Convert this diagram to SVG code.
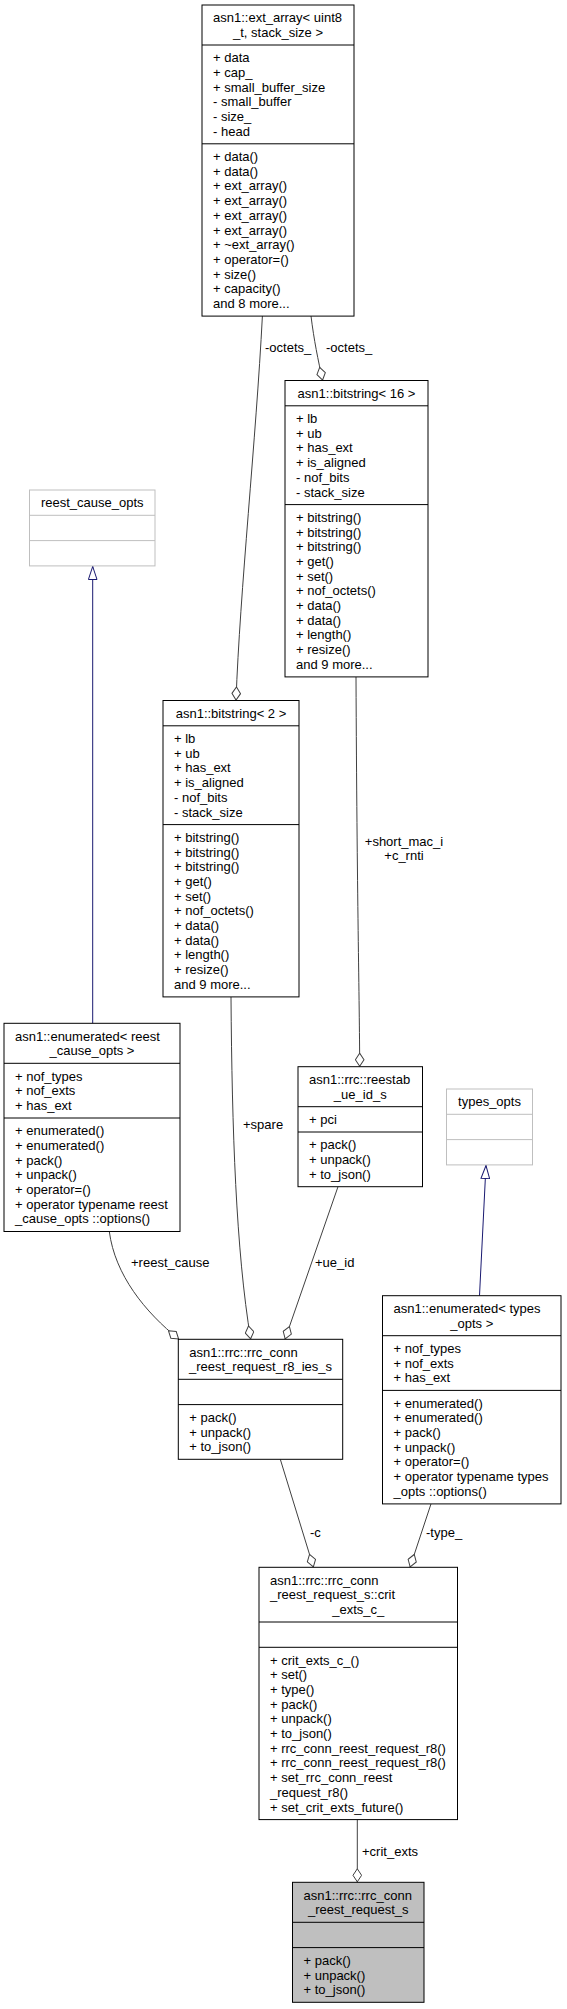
<svg xmlns="http://www.w3.org/2000/svg" width="567" height="2009" viewBox="0 0 567 2009">
<style>
text{font-family:"Liberation Sans",Arial,sans-serif;font-size:13px;fill:#000}
.c{text-anchor:middle}
.box{fill:#fff;stroke:#000;stroke-width:1}
.ghost{fill:#fff;stroke:#bfbfbf;stroke-width:1}
.cur{fill:#bfbfbf;stroke:#000;stroke-width:1}
.d{stroke:#000;stroke-width:1}
.dg{stroke:#bfbfbf;stroke-width:1}
.e{fill:none;stroke:#404040;stroke-width:1}
.i{fill:none;stroke:#191970;stroke-width:1}
</style>
<defs>
<marker id="dia" viewBox="0 0 14 10" refX="14" refY="5" markerWidth="14" markerHeight="10" markerUnits="userSpaceOnUse" orient="auto">
<path d="M0.5,5 L7,0.7 L13.5,5 L7,9.3 Z" fill="#fff" stroke="#404040" stroke-width="1"/>
</marker>
<marker id="tri" viewBox="0 0 14 10" refX="14" refY="5" markerWidth="14" markerHeight="10" markerUnits="userSpaceOnUse" orient="auto">
<path d="M0.5,0.7 L13.5,5 L0.5,9.3 Z" fill="#fff" stroke="#191970" stroke-width="1"/>
</marker>
</defs>

<g id="connectors">
<path class="e" d="M262.4,316 C256,440 240,590 236,700.5" marker-end="url(#dia)"/>
<text x="265" y="352">-octets_</text>
<path class="e" d="M311,316 C314,340 318,360 322.7,380.5" marker-end="url(#dia)"/>
<text x="326" y="352">-octets_</text>
<path class="i" d="M92.7,1023.3 L92.7,566" marker-end="url(#tri)"/>
<path class="e" d="M231,997 C232,1130 236,1250 250.7,1339.3" marker-end="url(#dia)"/>
<text x="243" y="1129">+spare</text>
<path class="e" d="M338,1186.7 L285,1339.3" marker-end="url(#dia)"/>
<text x="315" y="1267">+ue_id</text>
<path class="e" d="M109.3,1231.5 C115,1275 145,1312 179,1339.3" marker-end="url(#dia)"/>
<text x="131" y="1267">+reest_cause</text>
<path class="e" d="M356,677 C357,900 359.5,1000 359.7,1066.7" marker-end="url(#dia)"/>
<text class="c" x="404" y="845.5">+short_mac_i</text>
<text class="c" x="404" y="860">+c_rnti</text>
<path class="i" d="M479.5,1295.7 L486,1165" marker-end="url(#tri)"/>
<path class="e" d="M280.3,1459.3 L313.5,1567.3" marker-end="url(#dia)"/>
<text x="310" y="1537">-c</text>
<path class="e" d="M431,1503.9 L410,1567.3" marker-end="url(#dia)"/>
<text x="426" y="1537">-type_</text>
<path class="e" d="M357.3,1819.6 L357.3,1882.3" marker-end="url(#dia)"/>
<text x="362" y="1856">+crit_exts</text>
</g>

<g id="ext_array">
<rect class="box" x="202" y="5" width="152" height="311.1"/>
<line class="d" x1="202" y1="45" x2="354" y2="45"/>
<line class="d" x1="202" y1="143.8" x2="354" y2="143.8"/>
<text x="213" y="22.2">asn1::ext_array&lt; uint8</text>
<text class="c" x="278" y="36.9">_t, stack_size &gt;</text>
<text x="213" y="62.2">+ data</text>
<text x="213" y="76.9">+ cap_</text>
<text x="213" y="91.6">+ small_buffer_size</text>
<text x="213" y="106.3">- small_buffer</text>
<text x="213" y="121">- size_</text>
<text x="213" y="135.7">- head</text>
<text x="213" y="161">+ data()</text>
<text x="213" y="175.7">+ data()</text>
<text x="213" y="190.4">+ ext_array()</text>
<text x="213" y="205.1">+ ext_array()</text>
<text x="213" y="219.8">+ ext_array()</text>
<text x="213" y="234.5">+ ext_array()</text>
<text x="213" y="249.2">+ ~ext_array()</text>
<text x="213" y="263.9">+ operator=()</text>
<text x="213" y="278.6">+ size()</text>
<text x="213" y="293.3">+ capacity()</text>
<text x="213" y="308">and 8 more...</text>
</g>

<g id="bitstring16">
<rect class="box" x="285" y="380.5" width="143" height="296.4"/>
<line class="d" x1="285" y1="405.8" x2="428" y2="405.8"/>
<line class="d" x1="285" y1="504.6" x2="428" y2="504.6"/>
<text class="c" x="356.5" y="397.7">asn1::bitstring&lt; 16 &gt;</text>
<text x="296" y="423">+ lb</text>
<text x="296" y="437.7">+ ub</text>
<text x="296" y="452.4">+ has_ext</text>
<text x="296" y="467.1">+ is_aligned</text>
<text x="296" y="481.8">- nof_bits</text>
<text x="296" y="496.5">- stack_size</text>
<text x="296" y="521.8">+ bitstring()</text>
<text x="296" y="536.5">+ bitstring()</text>
<text x="296" y="551.2">+ bitstring()</text>
<text x="296" y="565.9">+ get()</text>
<text x="296" y="580.6">+ set()</text>
<text x="296" y="595.3">+ nof_octets()</text>
<text x="296" y="610">+ data()</text>
<text x="296" y="624.7">+ data()</text>
<text x="296" y="639.4">+ length()</text>
<text x="296" y="654.1">+ resize()</text>
<text x="296" y="668.8">and 9 more...</text>
</g>

<g id="reest_cause_opts">
<rect class="ghost" x="29.5" y="490" width="125.5" height="75.9"/>
<line class="dg" x1="29.5" y1="515.3" x2="155" y2="515.3"/>
<line class="dg" x1="29.5" y1="540.6" x2="155" y2="540.6"/>
<text class="c" x="92.25" y="507.2">reest_cause_opts</text>
</g>

<g id="bitstring2">
<rect class="box" x="163" y="700.5" width="136" height="296.4"/>
<line class="d" x1="163" y1="725.8" x2="299" y2="725.8"/>
<line class="d" x1="163" y1="824.6" x2="299" y2="824.6"/>
<text class="c" x="231" y="717.7">asn1::bitstring&lt; 2 &gt;</text>
<text x="174" y="743">+ lb</text>
<text x="174" y="757.7">+ ub</text>
<text x="174" y="772.4">+ has_ext</text>
<text x="174" y="787.1">+ is_aligned</text>
<text x="174" y="801.8">- nof_bits</text>
<text x="174" y="816.5">- stack_size</text>
<text x="174" y="841.8">+ bitstring()</text>
<text x="174" y="856.5">+ bitstring()</text>
<text x="174" y="871.2">+ bitstring()</text>
<text x="174" y="885.9">+ get()</text>
<text x="174" y="900.6">+ set()</text>
<text x="174" y="915.3">+ nof_octets()</text>
<text x="174" y="930">+ data()</text>
<text x="174" y="944.7">+ data()</text>
<text x="174" y="959.4">+ length()</text>
<text x="174" y="974.1">+ resize()</text>
<text x="174" y="988.8">and 9 more...</text>
</g>

<g id="enumerated_reest_cause_opts">
<rect class="box" x="4" y="1023.3" width="176" height="208.2"/>
<line class="d" x1="4" y1="1063.3" x2="180" y2="1063.3"/>
<line class="d" x1="4" y1="1118" x2="180" y2="1118"/>
<text x="15" y="1040.5">asn1::enumerated&lt; reest</text>
<text class="c" x="92" y="1055.2">_cause_opts &gt;</text>
<text x="15" y="1080.5">+ nof_types</text>
<text x="15" y="1095.2">+ nof_exts</text>
<text x="15" y="1109.9">+ has_ext</text>
<text x="15" y="1135.2">+ enumerated()</text>
<text x="15" y="1149.9">+ enumerated()</text>
<text x="15" y="1164.6">+ pack()</text>
<text x="15" y="1179.3">+ unpack()</text>
<text x="15" y="1194">+ operator=()</text>
<text x="15" y="1208.7">+ operator typename reest</text>
<text x="15" y="1223.4">_cause_opts ::options()</text>
</g>

<g id="reestab_ue_id_s">
<rect class="box" x="298" y="1066.7" width="124.5" height="120"/>
<line class="d" x1="298" y1="1106.7" x2="422.5" y2="1106.7"/>
<line class="d" x1="298" y1="1132" x2="422.5" y2="1132"/>
<text x="309" y="1083.9">asn1::rrc::reestab</text>
<text class="c" x="360.25" y="1098.6">_ue_id_s</text>
<text x="309" y="1123.9">+ pci</text>
<text x="309" y="1149.2">+ pack()</text>
<text x="309" y="1163.9">+ unpack()</text>
<text x="309" y="1178.6">+ to_json()</text>
</g>

<g id="types_opts">
<rect class="ghost" x="446.5" y="1089" width="86" height="75.9"/>
<line class="dg" x1="446.5" y1="1114.3" x2="532.5" y2="1114.3"/>
<line class="dg" x1="446.5" y1="1139.6" x2="532.5" y2="1139.6"/>
<text class="c" x="489.5" y="1106.2">types_opts</text>
</g>

<g id="enumerated_types_opts">
<rect class="box" x="382.5" y="1295.7" width="178.5" height="208.2"/>
<line class="d" x1="382.5" y1="1335.7" x2="561" y2="1335.7"/>
<line class="d" x1="382.5" y1="1390.4" x2="561" y2="1390.4"/>
<text x="393.5" y="1312.9">asn1::enumerated&lt; types</text>
<text class="c" x="471.75" y="1327.6">_opts &gt;</text>
<text x="393.5" y="1352.9">+ nof_types</text>
<text x="393.5" y="1367.6">+ nof_exts</text>
<text x="393.5" y="1382.3">+ has_ext</text>
<text x="393.5" y="1407.6">+ enumerated()</text>
<text x="393.5" y="1422.3">+ enumerated()</text>
<text x="393.5" y="1437">+ pack()</text>
<text x="393.5" y="1451.7">+ unpack()</text>
<text x="393.5" y="1466.4">+ operator=()</text>
<text x="393.5" y="1481.1">+ operator typename types</text>
<text x="393.5" y="1495.8">_opts ::options()</text>
</g>

<g id="rrc_conn_reest_request_r8_ies_s">
<rect class="box" x="178.3" y="1339.3" width="164.4" height="120"/>
<line class="d" x1="178.3" y1="1379.3" x2="342.7" y2="1379.3"/>
<line class="d" x1="178.3" y1="1404.6" x2="342.7" y2="1404.6"/>
<text x="189.3" y="1356.5">asn1::rrc::rrc_conn</text>
<text class="c" x="260.5" y="1371.2">_reest_request_r8_ies_s</text>
<text x="189.3" y="1421.8">+ pack()</text>
<text x="189.3" y="1436.5">+ unpack()</text>
<text x="189.3" y="1451.2">+ to_json()</text>
</g>

<g id="crit_exts_c">
<rect class="box" x="259" y="1567.3" width="198.5" height="252.3"/>
<line class="d" x1="259" y1="1622" x2="457.5" y2="1622"/>
<line class="d" x1="259" y1="1647.3" x2="457.5" y2="1647.3"/>
<text x="270" y="1584.5">asn1::rrc::rrc_conn</text>
<text x="270" y="1599.2">_reest_request_s::crit</text>
<text class="c" x="358.25" y="1613.9">_exts_c_</text>
<text x="270" y="1664.5">+ crit_exts_c_()</text>
<text x="270" y="1679.2">+ set()</text>
<text x="270" y="1693.9">+ type()</text>
<text x="270" y="1708.6">+ pack()</text>
<text x="270" y="1723.3">+ unpack()</text>
<text x="270" y="1738">+ to_json()</text>
<text x="270" y="1752.7">+ rrc_conn_reest_request_r8()</text>
<text x="270" y="1767.4">+ rrc_conn_reest_request_r8()</text>
<text x="270" y="1782.1">+ set_rrc_conn_reest</text>
<text x="270" y="1796.8">_request_r8()</text>
<text x="270" y="1811.5">+ set_crit_exts_future()</text>
</g>

<g id="rrc_conn_reest_request_s">
<rect class="cur" x="292.5" y="1882.3" width="131.5" height="120"/>
<line class="d" x1="292.5" y1="1922.3" x2="424" y2="1922.3"/>
<line class="d" x1="292.5" y1="1947.6" x2="424" y2="1947.6"/>
<text x="303.5" y="1899.5">asn1::rrc::rrc_conn</text>
<text class="c" x="358.25" y="1914.2">_reest_request_s</text>
<text x="303.5" y="1964.8">+ pack()</text>
<text x="303.5" y="1979.5">+ unpack()</text>
<text x="303.5" y="1994.2">+ to_json()</text>
</g>
</svg>
